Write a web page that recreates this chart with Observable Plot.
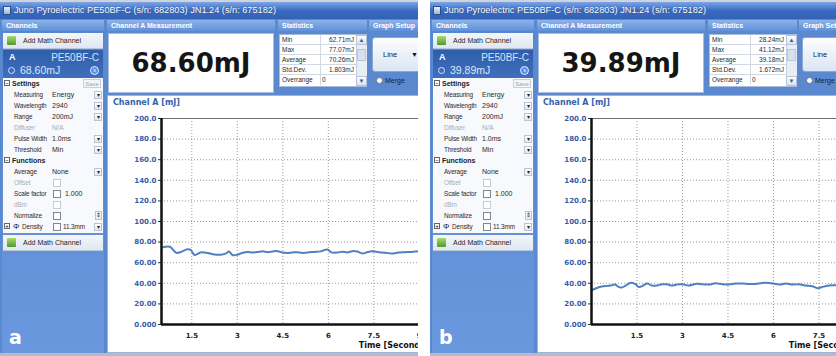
<!DOCTYPE html>
<html><head><meta charset="utf-8">
<script src="https://cdn.jsdelivr.net/npm/d3@7"></script>
<script src="https://cdn.jsdelivr.net/npm/@observablehq/plot@0.6"></script>
<style>
html,body{margin:0;padding:0;background:#fff;}
#root{position:relative;width:836px;height:356px;overflow:hidden;font-family:"Liberation Sans",Arial,sans-serif;}
.abs{position:absolute;box-sizing:border-box;white-space:nowrap;}
.panel{overflow:hidden;background:#5a89cf;}
.hdr{background:linear-gradient(#8db3ea,#5f90d8);color:#fff;font-size:7px;line-height:11px;padding-left:4px;font-weight:bold;overflow:hidden;}
.lbl{font-size:7px;line-height:11px;color:#2a2a2a;}
.rl{font-size:6.4px;line-height:11px;color:#2a2a2a;letter-spacing:-0.1px;}
.gray{color:#a8adb5;}
.dd{background:linear-gradient(#fff,#e2e8f2);border:1px solid #b9c3d2;font-size:6px;line-height:7px;text-align:center;color:#222;}
.cb{background:#fff;border:1px solid #7d8794;}
.plotbox svg{overflow:visible;}
</style></head>
<body><div id="root"></div>
<script>
// ---------- data ----------
const timeA = [0.55,0.77,0.99,1.15,1.35,1.46,1.59,1.81,2.03,2.24,2.46,2.63,2.72,2.85,3.01,3.18,3.34,3.5,3.67,3.83,4.0,4.16,4.33,4.49,4.65,4.82,4.98,5.15,5.31,5.53,5.75,5.97,6.10,6.30,6.46,6.63,6.79,6.95,7.12,7.28,7.45,7.67,7.89,8.10,8.32,8.54,8.76,8.98,9.2,9.36];
const energyA = [75.0,75.5,69.6,70.5,73.0,72.5,67.5,70.2,69.4,68.0,67.8,69.0,70.9,67.3,67.8,69.6,70.5,70.0,70.3,71.0,70.2,70.9,71.2,69.8,69.4,70.0,70.2,69.4,70.0,70.5,71.0,72.8,70.0,69.9,70.6,70.0,71.2,70.9,68.9,70.2,71.0,70.2,69.6,68.9,69.9,70.2,70.5,71.2,70.8,71.0];
const timeB = [0.02,0.18,0.34,0.51,0.67,0.78,0.89,1.0,1.11,1.28,1.45,1.56,1.72,1.83,1.99,2.16,2.33,2.49,2.66,2.82,2.99,3.21,3.43,3.65,3.87,4.09,4.31,4.53,4.75,4.97,5.19,5.41,5.63,5.85,6.07,6.24,6.40,6.62,6.84,7.06,7.28,7.45,7.61,7.83,8.05,8.27,8.5,8.8];
const energyB = [33.5,35.5,36.8,37.5,38.1,38.8,36.5,35.9,37.5,40.4,39.1,36.5,38.1,39.8,37.8,37.9,39.1,39.0,37.8,38.8,39.1,37.8,39.4,39.1,38.8,40.0,39.1,38.8,39.8,39.8,39.4,39.4,40.4,40.4,39.4,38.8,39.8,38.8,39.1,37.8,37.2,35.2,36.5,37.8,38.1,38.5,39.0,38.8];
const yTicks = [0,20,40,60,80,100,120,140,160,180,200];
const xTicks = [1.5,3,4.5,6,7.5,9];
const statLabels = ["Min","Max","Average","Std.Dev.","Overrange"];
const statsA = ["62.71mJ","77.07mJ","70.26mJ","1.803mJ","0"];
const statsB = ["28.24mJ","41.12mJ","39.18mJ","1.672mJ","0"];
const readingA = "68.60mJ";
const readingB = "39.89mJ";
const windowTitle = "Juno Pyroelectric PE50BF-C (s/n: 682803)  JN1.24 (s/n: 675182)";
const settingRows = [["Measuring","Energy","dd"],["Wavelength","2940","dd"],["Range","200mJ","dd"],["Diffuser","N/A","off"],["Pulse Width","1.0ms","dd"],["Threshold","Min","dd"]];
const functionRows = [["Average","None","dd"],["Offset","","offcb"],["Scale factor","1.000","cb"],["dBm","","offcb"],["Normalize","","cbspin"]];

// ---------- helpers ----------
const root = document.getElementById("root");
function box(p, x, y, w, h, css = {}, text = null, cls = "") {
  const d = document.createElement("div");
  d.className = "abs " + cls;
  Object.assign(d.style, {left: x + "px", top: y + "px", width: w + "px", height: h + "px"}, css);
  if (text != null) d.textContent = text;
  p.appendChild(d);
  return d;
}
function fmtY(d) { return d.toPrecision(4); }

function chart(times, values, x0) {
  const pxPerSec = 30.33;
  const x1 = x0 + 269 / pxPerSec;
  const data = times.map((t, i) => ({t, v: values[i]}));
  return Plot.plot({
    width: 325, height: 259,
    marginLeft: 56, marginRight: 0, marginTop: 23, marginBottom: 30,
    style: {background: "transparent", overflow: "visible"},
    x: {domain: [x0, x1], axis: null},
    y: {domain: [0, 200], axis: null},
    marks: [
      Plot.gridY(yTicks.slice(1, -1), {stroke: "#9a9a9a", strokeOpacity: 1, strokeDasharray: "1,2"}),
      Plot.gridX(xTicks, {stroke: "#9a9a9a", strokeOpacity: 1, strokeDasharray: "1,2"}),
      Plot.ruleY([200], {stroke: "#6e6e6e", strokeWidth: 1.2}),
      Plot.ruleY(yTicks, {x1: x0 - 0.1, x2: x0, stroke: "#333"}),
      Plot.line(data, {x: "t", y: "v", stroke: "#4f81c2", strokeWidth: 2, curve: "catmull-rom", clip: true}),
      Plot.ruleX([x0], {stroke: "#111", strokeWidth: 2.5}),
      Plot.ruleY([0], {stroke: "#111", strokeWidth: 2.5}),
      Plot.text(yTicks, {x: x0, y: d => d, text: fmtY, textAnchor: "end", dx: -5, fill: "#3560a8", fontWeight: "bold", fontSize: 7, fontFamily: "DejaVu Sans"}),
      Plot.text(xTicks, {x: d => d, y: 0, text: d => String(d), dy: 11, fill: "#222", fontWeight: "bold", fontSize: 7, fontFamily: "DejaVu Sans"}),
      Plot.text(["Time [Seconds]"], {frameAnchor: "bottom-right", text: d => d, textAnchor: "end", dy: 23, dx: -2, fill: "#111", fontWeight: "bold", fontSize: 8, fontFamily: "DejaVu Sans"})
    ]
  });
}

function buildPanel(px, pw, cfg) {
  const P = box(root, px, 0, pw, 356, {}, null, "panel");
  box(P, 0, 0, 460, 2, {background: "#cfd3da"});
  // title bar
  const T = box(P, 0, 2, 460, 17, {background: "linear-gradient(#7aa6e8,#3a6bc0 50%,#3262b6)"});
  box(T, 3, 4, 8, 9, {background: "linear-gradient(#e8eef8,#9fb4d4)", border: "1px solid #2a4f8f"});
  box(T, 14, 0, 420, 17, {color: "#fff", fontSize: "9.2px", lineHeight: "17px", textShadow: "0 0 1px #1b3f80"}, windowTitle);
  // section headers
  box(P, 2, 20, 102, 11, {}, "Channels", "hdr");
  box(P, 107, 20, 168, 11, {}, "Channel A Measurement", "hdr");
  box(P, 278, 20, 89, 11, {}, "Statistics", "hdr");
  box(P, 369, 20, 80, 11, {}, "Graph Setup", "hdr");
  // channels column
  box(P, 2, 31, 102, 322, {background: "linear-gradient(#5586d0,#6a98de)"});
  const addRow = (y) => {
    const r = box(P, 3, y, 100, 16, {background: "linear-gradient(#f4f7fb,#e0e7f1)", borderBottom: "1px solid #b8c6db"});
    box(r, 4, 3, 9, 9, {background: "linear-gradient(#a9dc6e,#4f9a2a)", borderRadius: "1px"});
    box(r, 20, 0, 78, 16, {fontSize: "7px", lineHeight: "16px", color: "#222"}, "Add Math Channel");
  };
  addRow(33);
  // selected channel
  const C = box(P, 3, 50, 100, 28, {background: "linear-gradient(#2e5eab,#3f6fbd)"});
  box(C, 6, 1, 12, 13, {color: "#fff", fontWeight: "bold", fontSize: "9px", lineHeight: "13px"}, "A");
  box(C, 38, 0, 58, 14, {color: "#d5e3fb", fontSize: "10px", lineHeight: "15px", textAlign: "right"}, "PE50BF-C");
  box(C, 5, 17, 7, 7, {border: "1px solid #d5e3fb", borderRadius: "50%"});
  box(C, 17, 13, 60, 14, {color: "#dce8fc", fontSize: "10.5px", lineHeight: "15px"}, cfg.reading);
  box(C, 87, 16, 9, 9, {background: "#5a8de0", border: "1px solid #e6eefc", borderRadius: "50%", color: "#fff", fontSize: "5px", lineHeight: "7px", textAlign: "center"}, "s");
  // settings area
  const S = box(P, 3, 78, 100, 155, {background: "#f7f9fc"});
  box(S, 1, 2, 6, 6, {border: "1px solid #666", background: "#fff", fontSize: "6px", lineHeight: "4px", textAlign: "center"}, "−");
  box(S, 9, 0, 40, 11, {fontWeight: "bold", fontSize: "7px", lineHeight: "11px", color: "#222"}, "Settings");
  box(S, 80, 1, 18, 9, {border: "1px solid #c9cfd8", color: "#a0a6ae", fontSize: "6px", lineHeight: "8px", textAlign: "center", background: "#f4f5f7"}, "Save");
  const row = (y, label, value, kind) => {
    const off = kind.startsWith("off");
    box(S, 11, y, 36, 11, {}, label, "rl" + (off ? " gray" : ""));
    if (kind === "dd" || kind === "off") box(S, 49, y, 38, 11, {}, value, "lbl" + (off ? " gray" : ""));
    if (kind === "dd") box(S, 91, y + 2, 8, 8, {}, "▾", "dd");
    if (kind.includes("cb")) {
      box(S, 50, y + 2, 8, 8, {borderColor: off ? "#c8ccd2" : "#7d8794"}, null, "cb");
      if (value) box(S, 62, y, 28, 11, {}, value, "lbl");
    }
    if (kind === "cbspin") box(S, 92, y + 1, 7, 9, {}, "⇕", "dd");
  };
  settingRows.forEach((r, i) => row(11 + 11 * i, ...r));
  box(S, 1, 79, 6, 6, {border: "1px solid #666", background: "#fff", fontSize: "6px", lineHeight: "4px", textAlign: "center"}, "−");
  box(S, 9, 77, 50, 11, {fontWeight: "bold", fontSize: "7px", lineHeight: "11px", color: "#222"}, "Functions");
  functionRows.forEach((r, i) => row(88 + 11 * i, ...r));
  // density row
  box(S, 1, 145, 6, 6, {border: "1px solid #666", background: "#fff", fontSize: "6px", lineHeight: "4px", textAlign: "center"}, "+");
  box(S, 10, 143, 8, 11, {fontSize: "8px", lineHeight: "11px", color: "#222"}, "Φ");
  box(S, 19, 143, 30, 11, {}, "Density", "rl");
  box(S, 50, 145, 8, 8, {}, null, "cb");
  box(S, 60, 143, 30, 11, {}, "11.3mm", "rl");
  box(S, 91, 145, 8, 8, {}, "▾", "dd");
  addRow(235);
  box(P, 9, 325, 24, 24, {color: "#fff", fontWeight: "bold", fontSize: "19px", lineHeight: "24px", fontFamily: "DejaVu Sans"}, cfg.letter);
  // measurement box
  box(P, 108, 33, 166, 60, {background: "#fff", border: "1px solid #a9bedf", fontFamily: "DejaVu Sans", fontWeight: "bold", fontSize: "26px", lineHeight: "58px", textAlign: "center", color: "#151515"}, cfg.reading);
  // statistics
  const ST = box(P, 279, 34, 88, 53, {background: "#fff", border: "1px solid #a9bedf"});
  statLabels.forEach((l, i) => {
    box(ST, 0, 10 * i, 76, 10, {borderBottom: i < 4 ? "1px solid #d3d9e2" : "none"});
    box(ST, 2, 10 * i, 38, 10, {fontSize: "6.5px", lineHeight: "10px", color: "#2a2a2a"}, l);
    box(ST, 40, 10 * i, 1, 10, {background: "#d3d9e2"});
    box(ST, 42, 10 * i, 32, 10, {fontSize: "6.5px", lineHeight: "10px", color: "#2a2a2a", textAlign: i < 4 ? "right" : "left"}, cfg.stats[i]);
  });
  box(ST, 76, 0, 11, 51, {background: "#e9eef6", borderLeft: "1px solid #c6d0de"});
  box(ST, 76, 0, 11, 10, {background: "linear-gradient(#fbfcfe,#d9e3f1)", border: "1px solid #b7c4d8", fontSize: "6px", lineHeight: "8px", textAlign: "center", color: "#3b5a8c"}, "▲");
  box(ST, 77, 14, 9, 12, {background: "#d6e0ee", border: "1px solid #b9c6d9"});
  box(ST, 76, 41, 11, 10, {background: "linear-gradient(#fbfcfe,#d9e3f1)", border: "1px solid #b7c4d8", fontSize: "6px", lineHeight: "8px", textAlign: "center", color: "#3b5a8c"}, "▼");
  // graph setup
  const B = box(P, 372, 37, 52, 35, {background: "linear-gradient(#fdfdfe,#dbe5f3)", border: "1px solid #8fa9ce", borderRadius: "3px"});
  box(B, 10, 0, 20, 33, {fontSize: "7.5px", lineHeight: "33px", color: "#222"}, "Line");
  box(B, 38, 0, 10, 33, {fontSize: "7px", lineHeight: "33px", color: "#111"}, "▼");
  box(P, 376, 77, 7, 7, {background: "#fff", border: "1px solid #6d7785", borderRadius: "50%"});
  box(P, 385, 75, 40, 11, {fontSize: "7px", lineHeight: "11px", color: "#222"}, "Merge");
  // chart area
  box(P, 107, 95, 360, 258, {background: "#fff", border: "1px solid #9cb5da"});
  box(P, 113, 97, 120, 12, {color: "#3560a8", fontWeight: "bold", fontSize: "8px", lineHeight: "12px", fontFamily: "DejaVu Sans"}, "Channel A [mJ]");
  const holder = box(P, 105, 95, 325, 259, {}, null, "plotbox");
  holder.appendChild(chart(cfg.times, cfg.values, cfg.x0));
  box(P, 0, 353, 460, 3, {background: "#b7bcc4"});
}

buildPanel(0, 418, {reading: readingA, stats: statsA, times: timeA, values: energyA, x0: 0.5, letter: "a"});
buildPanel(430, 406, {reading: readingB, stats: statsB, times: timeB, values: energyB, x0: 0, letter: "b"});
</script></body></html>
